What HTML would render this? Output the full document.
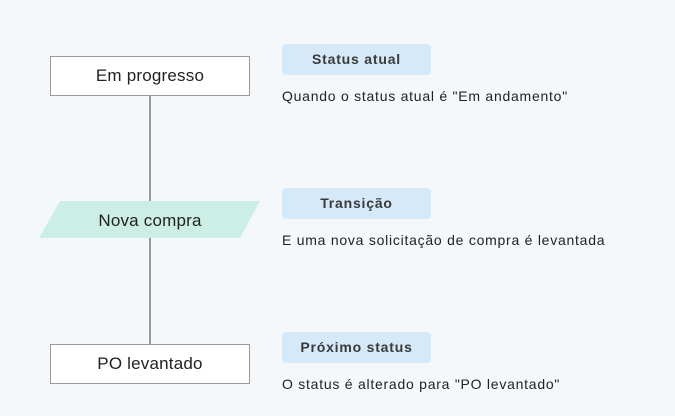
<!DOCTYPE html>
<html><head><style>
body{margin:0;width:675px;height:416px;background:#f5f8fb;font-family:"Liberation Sans",sans-serif;position:relative;overflow:hidden}
.box{position:absolute;left:50px;width:198px;height:38px;border:1px solid #9a9a9a;background:#fff;text-align:center;line-height:38px;font-size:17px;color:#222;letter-spacing:0.2px}
.pill{position:absolute;left:282px;width:149px;height:31px;border-radius:4px;background:#d5e9f8;text-align:center;line-height:31px;font-size:14px;font-weight:bold;color:#3a3a3a;letter-spacing:0.8px}
.t{position:absolute;left:282px;font-size:14px;color:#222;letter-spacing:0.75px}
</style></head><body>
<div style="position:absolute;left:149px;top:95px;width:2px;height:250px;background:#999"></div>
<div class="box" style="top:56px">Em progresso</div>
<svg style="position:absolute;left:0;top:0" width="675" height="416"><polygon points="60,201 260,201 240,238 39,238" fill="#cdeee4"/><text x="150" y="226" text-anchor="middle" font-family="Liberation Sans" font-size="17" letter-spacing="0.2" fill="#222">Nova compra</text></svg>
<div class="box" style="top:344px">PO levantado</div>
<div class="pill" style="top:44px">Status atual</div>
<div class="t" style="top:88px">Quando o status atual é "Em andamento"</div>
<div class="pill" style="top:188px">Transição</div>
<div class="t" style="top:232px">E uma nova solicitação de compra é levantada</div>
<div class="pill" style="top:332px">Próximo status</div>
<div class="t" style="top:376px">O status é alterado para "PO levantado"</div>
</body></html>
